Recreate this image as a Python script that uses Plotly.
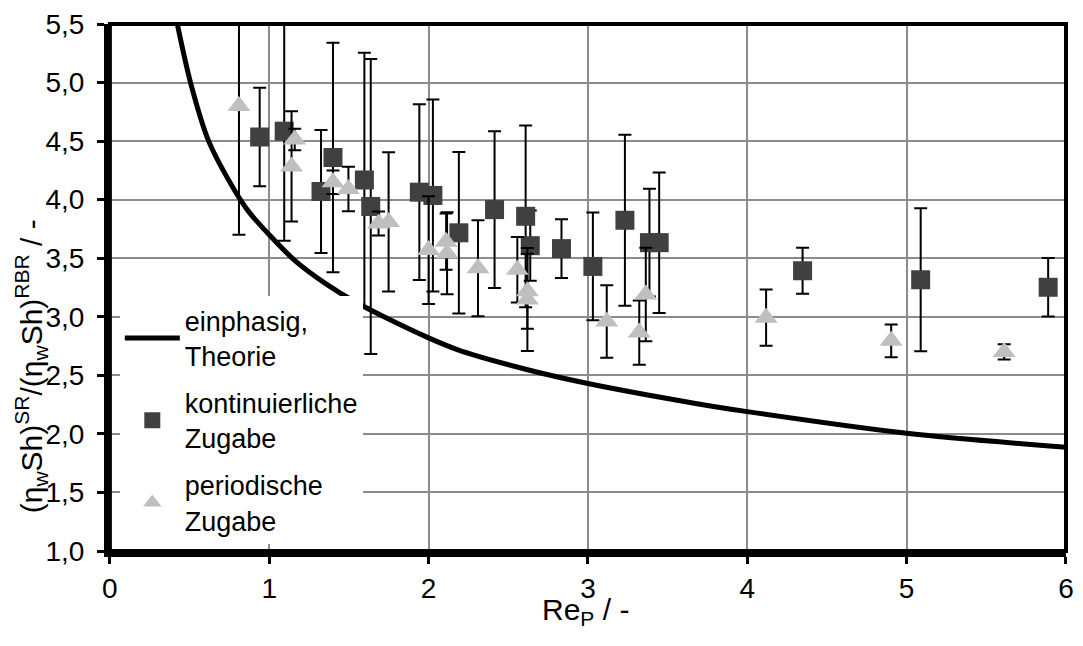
import plotly.graph_objects as go

# ---- data ----
theory_x = [0.423, 0.506, 0.62, 0.787, 0.87, 1.0, 1.161, 1.368, 1.535, 1.72, 2.0, 2.18, 2.615, 3.0, 3.675, 4.0, 5.0, 6.0]
theory_y = [5.5, 5.0, 4.5, 4.07, 3.90, 3.70, 3.48, 3.27, 3.13, 3.00, 2.82, 2.72, 2.55, 2.43, 2.26, 2.19, 2.005, 1.885]

cont_x = [0.94, 1.094, 1.325, 1.40, 1.597, 1.637, 1.942, 2.027, 2.19, 2.414, 2.609, 2.638, 2.834, 3.031, 3.232, 3.386, 3.447, 4.347, 5.088, 5.888]
cont_y = [4.535, 4.585, 4.07, 4.36, 4.168, 3.942, 4.064, 4.036, 3.717, 3.915, 3.858, 3.607, 3.582, 3.43, 3.824, 3.633, 3.633, 3.393, 3.316, 3.252]
cont_err = [0.42, 0.935, 0.525, 0.98, 1.086, 1.26, 0.75, 0.82, 0.69, 0.67, 0.776, 0.30, 0.25, 0.46, 0.73, 0.46, 0.60, 0.197, 0.61, 0.25]

per_x = [0.81, 1.14, 1.16, 1.40, 1.497, 1.686, 1.749, 2.0, 2.11, 2.116, 2.31, 2.557, 2.62, 2.62, 3.118, 3.322, 3.363, 4.118, 4.903, 5.612]
per_y = [4.80, 4.284, 4.514, 4.149, 4.092, 3.796, 3.81, 3.57, 3.641, 3.542, 3.415, 3.401, 3.218, 3.147, 2.96, 2.865, 3.19, 2.992, 2.795, 2.70]
per_err = [1.10, 0.47, 0.092, 0.10, 0.19, 0.103, 0.595, 0.46, 0.24, 0.35, 0.41, 0.28, 0.32, 0.44, 0.31, 0.275, 0.40, 0.24, 0.14, 0.065]

x_ticks = [0, 1, 2, 3, 4, 5, 6]
y_ticks = [1.0, 1.5, 2.0, 2.5, 3.0, 3.5, 4.0, 4.5, 5.0, 5.5]
y_ticktext = ["1,0", "1,5", "2,0", "2,5", "3,0", "3,5", "4,0", "4,5", "5,0", "5,5"]

x_title = "Re<sub>P</sub> / -"
y_title = "(η<sub>w</sub>Sh)<sup>SR</sup>/(η<sub>w</sub>Sh)<sup>RBR</sup> / -"

FONT = "Liberation Sans, Arial, sans-serif"
TICK_FS = 28
TITLE_FS = 30
LEG_FS = 27

W, H = 1083, 646
ML, MR = 96, 9
PW = W - ML - MR
GAP = 14  # px between tick-label column and plot edge
D0 = GAP / PW

fig = go.Figure()
fig.add_trace(go.Scatter(
    x=theory_x, y=theory_y, mode="lines", name="einphasig,<br>Theorie",
    line=dict(color="black", width=5, shape="spline", smoothing=0.8),
    legendgroup="a",
))
fig.add_trace(go.Scatter(
    x=cont_x, y=cont_y, mode="markers", name="kontinuierliche<br>Zugabe",
    marker=dict(symbol="square", size=19, color="#404040"),
    error_y=dict(type="data", array=cont_err, visible=True, color="black", thickness=2, width=6.5),
    legendgroup="b",
))
fig.add_trace(go.Scatter(
    x=per_x, y=per_y, mode="markers", name="periodische<br>Zugabe",
    marker=dict(symbol="triangle-up", size=20, color="#BFBFBF"),
    error_y=dict(type="data", array=per_err, visible=True, color="black", thickness=2, width=6.5),
    legendgroup="c",
))

fig.update_layout(
    width=W, height=H,
    margin=dict(l=ML, r=MR, t=20, b=95),
    paper_bgcolor="white", plot_bgcolor="white",
    font=dict(family=FONT, size=TICK_FS, color="black"),
    showlegend=True,
    legend=dict(
        x=(120 - ML) / PW, y=0.483, xanchor="left", yanchor="top",
        bgcolor="white", borderwidth=0,
        font=dict(family=FONT, size=LEG_FS, color="black"),
        traceorder="grouped", tracegroupgap=9,
        itemwidth=55,
    ),
    xaxis=dict(
        domain=[D0, 1],
        range=[0, 6], tickvals=x_ticks, ticktext=[str(v) for v in x_ticks],
        showgrid=True, gridcolor="#8c8c8c", gridwidth=1.5,
        showline=True, linecolor="black", linewidth=6,
        ticks="outside", ticklen=7, tickwidth=3, tickcolor="black",
        zeroline=False,
        tickfont=dict(family=FONT, size=TICK_FS),
    ),
    yaxis=dict(
        range=[1.0, 5.5], tickvals=y_ticks, showticklabels=False,
        showgrid=True, gridcolor="#8c8c8c", gridwidth=1.5,
        showline=True, linecolor="black", linewidth=6,
        ticks="outside", ticklen=7, tickwidth=3, tickcolor="black",
        zeroline=False,
    ),
    yaxis2=dict(
        overlaying="y", anchor="free", position=0, side="left",
        range=[1.0, 5.5], tickvals=y_ticks, ticktext=y_ticktext,
        showgrid=False, showline=False, zeroline=False,
        ticks="outside", ticklen=6, tickcolor="rgba(0,0,0,0)",
        tickfont=dict(family=FONT, size=TICK_FS),
    ),
    annotations=[
        dict(text=x_title, xref="paper", yref="paper", x=(590 - ML) / PW, y=-0.115,
             xanchor="center", yanchor="middle", showarrow=False,
             font=dict(family=FONT, size=TITLE_FS, color="black")),
        dict(text=y_title, xref="paper", yref="paper", x=(7 - ML) / PW, y=0.35,
             xanchor="left", yanchor="middle", showarrow=False, textangle=-90,
             font=dict(family=FONT, size=TITLE_FS, color="black")),
    ],
    shapes=[dict(type="rect", xref="x domain", yref="y domain", x0=0, x1=1, y0=0, y1=1,
                 line=dict(color="black", width=4), layer="above")],
)

# invisible trace so the tick-label axis is drawn
fig.add_trace(go.Scatter(x=[None], y=[None], yaxis="y2", showlegend=False, hoverinfo="skip"))

fig.write_html("out.html")
